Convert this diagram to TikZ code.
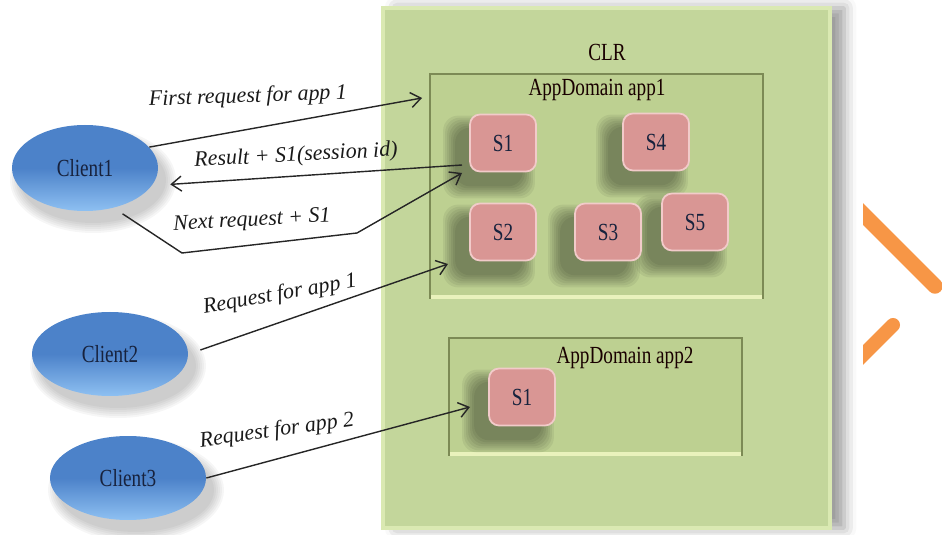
\documentclass[tikz,border=0pt]{standalone}
\usepackage{fontspec}
\setmainfont{Liberation Serif}
\newfontfamily\narrowfont[FakeStretch=0.78]{Liberation Serif}
\usetikzlibrary{shapes.geometric,shadows.blur,arrows.meta}

\definecolor{clrgreen}{HTML}{C3D69B}
\definecolor{clredge}{HTML}{DAE9B2}
\definecolor{domgreen}{HTML}{BDD091}
\definecolor{domedge}{HTML}{7C8A55}
\definecolor{bevellight}{HTML}{E9F2BC}
\definecolor{sesspink}{HTML}{D99694}
\definecolor{sessedge}{HTML}{F2CBCA}
\definecolor{clientblue}{HTML}{4C82C9}
\definecolor{clientlight}{HTML}{8EC0F2}
\definecolor{clienttext}{HTML}{17223D}
\definecolor{chevron}{HTML}{F79646}

\pgfdeclarelayer{back}
\pgfdeclarelayer{shade}
\pgfsetlayers{back,shade,main}

\tikzset{
  clrbox/.style={rectangle, fill=clrgreen, draw=clredge, line width=2pt,
    minimum width=89.4mm, minimum height=104mm,
    blur shadow={shadow xshift=8pt, shadow yshift=0pt, shadow opacity=40, shadow blur radius=7pt}},
  domainbox/.style={rectangle, fill=domgreen, draw=domedge, line width=0.9pt},
  bevel/.style={bevellight, line width=2pt},
  boxtitle/.style={font=\narrowfont\fontsize{14}{14}\selectfont, text=black!90!red},
  sessbox/.style={rectangle, rounded corners=2mm, fill=sesspink, draw=sessedge, line width=1pt,
    minimum width=13.2mm, minimum height=11.4mm,
    font=\narrowfont\fontsize{14}{14}\selectfont, text=clienttext},
  sessshade/.style={black, opacity=0.06, rounded corners=3mm},
  clientnode/.style={ellipse, inner sep=0pt, minimum width=31.2mm, minimum height=16.8mm,
    top color=clientblue, bottom color=clientlight, middle color=clientblue,
    font=\narrowfont\fontsize{14}{14}\selectfont, text=clienttext},
  clientshade/.style={black, opacity=0.035},
  req/.style={-{Straight Barb[length=2mm,width=3mm]}, line width=0.8pt, black!85},
  reqlabel/.style={font=\itshape\fontsize{12.5}{12.5}\selectfont, text=black!90}
}

\begin{document}
\begin{tikzpicture}[x=0.2mm,y=-0.2mm]
\useasboundingbox (0,0) rectangle (942,535);

% orange mark on the right
\begin{scope}
\clip (863,0) rectangle (942,535);
\draw[chevron, line width=3.1mm, line cap=round] (840,191) -- (935,286);
\draw[chevron, line width=2.8mm, line cap=round] (893,325) -- (840,378);
\end{scope}

% CLR and the app domains
\begin{pgfonlayer}{back}
\node[clrbox] (clr) at (606.5,268) {};
\node[domainbox, minimum width=66.6mm, minimum height=44.8mm] (app1) at (596.5,186) {};
\draw[bevel] ([shift={(2,-2)}]app1.south west) -- ([shift={(-2,-2)}]app1.south east);
\node[domainbox, minimum width=58.6mm, minimum height=23.4mm] (app2) at (595.5,396.5) {};
\draw[bevel] ([shift={(2,-2)}]app2.south west) -- ([shift={(-2,-2)}]app2.south east);
\end{pgfonlayer}
\node[boxtitle] (clrtitle) at (607,52) {CLR};
\node[boxtitle] (app1title) at (597,90) {AppDomain app1};
\node[boxtitle] (app2title) at (625,358) {AppDomain app2};

% sessions
\node[sessbox] (s11) at (503,143) {S1};
\node[sessbox] (s12) at (503,232) {S2};
\node[sessbox] (s13) at (608,232) {S3};
\node[sessbox] (s14) at (656,142) {S4};
\node[sessbox] (s15) at (695,222) {S5};
\node[sessbox] (s21) at (522,397) {S1};

% clients
\node[clientnode, minimum width=29.2mm, minimum height=17.2mm] (client1) at (85,168) {Client1};
\node[clientnode] (client2) at (110,354) {Client2};
\node[clientnode] (client3) at (128,478) {Client3};

% soft shadows
\begin{pgfonlayer}{shade}
\foreach \s in {s11,s12,s13,s14,s15,s21}
  \foreach \k in {0,2,...,12}
    \fill[sessshade] ([shift={(-14-\k,14+\k)}]\s.south west) rectangle ([shift={(-14+\k,14-\k)}]\s.north east);
\foreach \c/\rx/\ry in {client1/73/43,client2/78/42,client3/78/42}
  \foreach \k in {0,2,...,10}
    \fill[clientshade] ([shift={(8,12)}]\c.center) ellipse [x radius=\rx+\k, y radius=\ry+\k];
\end{pgfonlayer}

% free ends of the requests
\coordinate (firstin) at (422,98);
\coordinate (resout) at (462,165);
\coordinate (nextlow) at (182,253);
\coordinate (nextmid) at (357,233);
\coordinate (nextin) at (462,173);
\coordinate (app1in) at (448,264);
\coordinate (app2in) at (470,407);

\draw[req] (client1.18) -- (firstin);
\draw[req] (resout) -- ([shift={(15,4)}]client1.-10);
\draw[req] ([shift={(5,7)}]client1.-50) -- (nextlow) -- (nextmid) -- (nextin);
\draw[req] ([shift={(12,-4)}]client2.east) -- (app1in);
\draw[req] (client3.east) -- (app2in);

\node[reqlabel, rotate=2] (lfirst) at (248,97) {First request for app 1};
\node[reqlabel, rotate=3] (lresult) at (296,156) {Result + S1(session id)};
\node[reqlabel, rotate=3] (lnext) at (252,221) {Next request + S1};
\node[reqlabel, rotate=10] (lapp1) at (280,295) {Request for app 1};
\node[reqlabel, rotate=8] (lapp2) at (277,431) {Request for app 2};
\end{tikzpicture}
\end{document}
